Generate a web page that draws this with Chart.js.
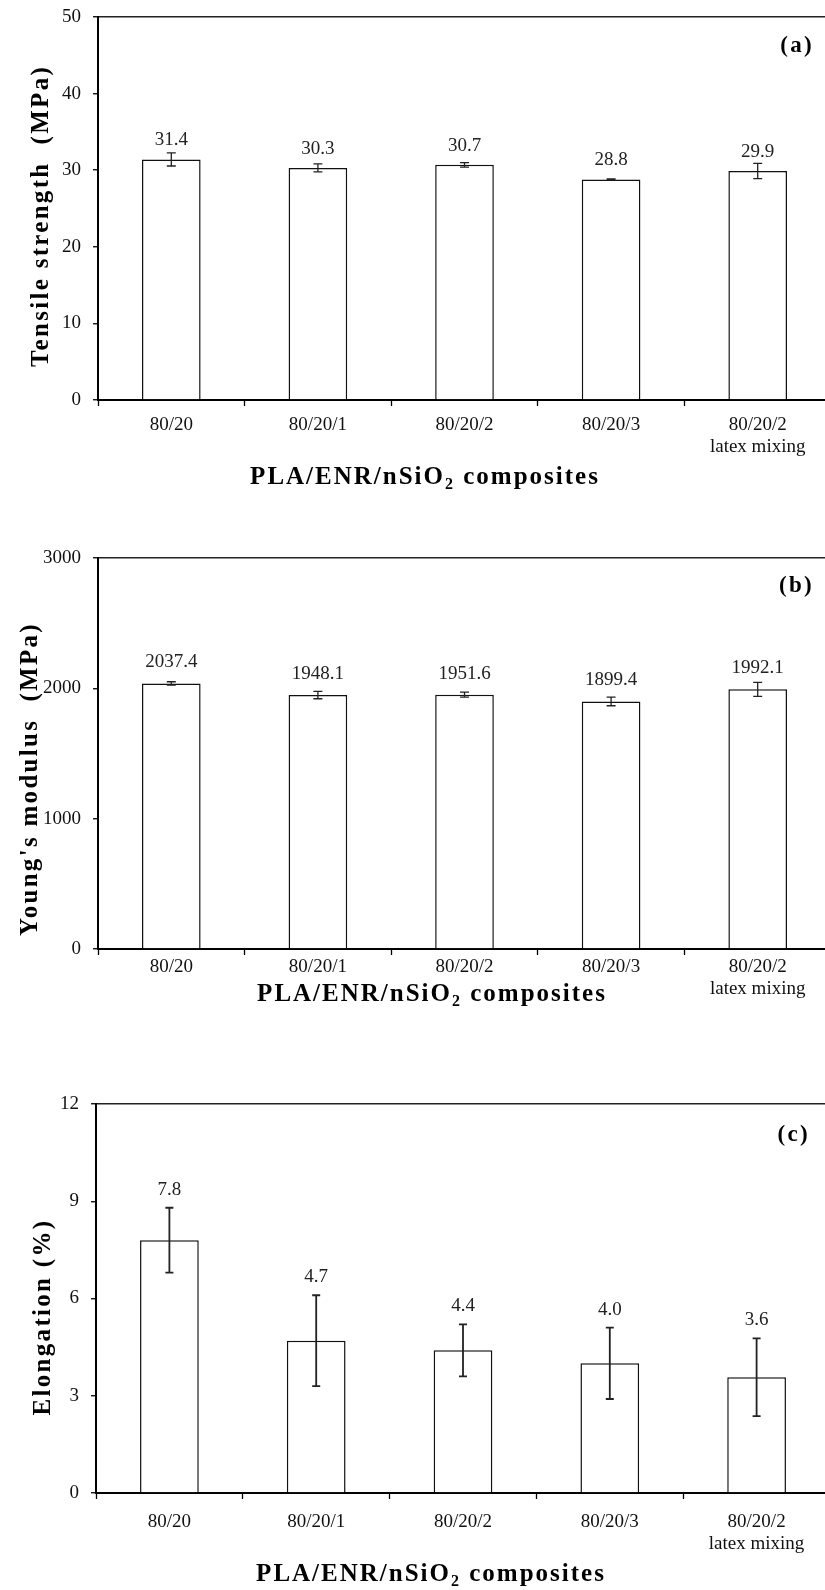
<!DOCTYPE html>
<html>
<head>
<title>PLA/ENR/nSiO2 composites</title>
<script src="https://cdn.jsdelivr.net/npm/chart.js@4.4.1/dist/chart.umd.min.js"></script>
<style>
  html, body { margin: 0; padding: 0; background: #fff; overflow: hidden; width: 825px; height: 1590px; }
  canvas { position: absolute; left: 0; }
</style>
</head>
<body>
<canvas id="cA" width="845" height="530" style="top:0px"></canvas>
<canvas id="cB" width="845" height="480" style="top:540px"></canvas>
<canvas id="cC" width="845" height="505" style="top:1085px"></canvas>

<script>
// data
const categories = ['80/20', '80/20/1', '80/20/2', '80/20/3', ['80/20/2', 'latex mixing']];

const tensile      = [31.4, 30.3, 30.7, 28.8, 29.9];
const tensileErr   = [0.85, 0.52, 0.29, 0.08, 1.0];
const tensileTicks = [0, 10, 20, 30, 40, 50];

const modulus      = [2037.4, 1948.1, 1951.6, 1899.4, 1992.1];
const modulusErr   = [13, 28, 19, 33, 54];
const modulusTicks = [0, 1000, 2000, 3000];

const elongation      = [7.8, 4.7, 4.4, 4.0, 3.57];
const elongationErr   = [1.0, 1.4, 0.8, 1.1, 1.2];
const elongationTicks = [0, 3, 6, 9, 12];

const SERIF = "'Liberation Serif', 'Times New Roman', serif";

// error bars, value labels, panel letter and axis titles
function decor(p) {
  return {
    id: 'decor',
    afterDatasetsDraw(chart) {
      const ctx = chart.ctx, y = chart.scales.y, area = chart.chartArea;
      const meta = chart.getDatasetMeta(0);
      ctx.save();

      ctx.strokeStyle = '#222';
      ctx.lineWidth = p.errWidth;
      p.values.forEach((v, i) => {
        const cx = meta.data[i].x;
        const t = y.getPixelForValue(v + p.errors[i]);
        const b = y.getPixelForValue(v - p.errors[i]);
        ctx.beginPath();
        ctx.moveTo(cx, t); ctx.lineTo(cx, b);
        ctx.moveTo(cx - p.cap, t); ctx.lineTo(cx + p.cap, t);
        ctx.moveTo(cx - p.cap, b); ctx.lineTo(cx + p.cap, b);
        ctx.stroke();
      });

      ctx.fillStyle = '#222';
      ctx.font = '19px ' + SERIF;
      ctx.textAlign = 'center';
      ctx.textBaseline = 'middle';
      p.values.forEach((v, i) => {
        const ref = p.labelFromErr ? v + p.errors[i] : v;
        ctx.fillText(v.toFixed(1), meta.data[i].x, y.getPixelForValue(ref) - p.labelGap);
      });

      ctx.fillStyle = '#000';
      ctx.letterSpacing = '2.3px';
      ctx.font = 'bold 23px ' + SERIF;
      ctx.textAlign = 'right';
      ctx.fillText(p.panel, p.panelX, area.top + p.panelDy);

      // x title with subscript
      ctx.letterSpacing = '2px';
      ctx.textAlign = 'left';
      ctx.textBaseline = 'alphabetic';
      const parts = [['PLA/ENR/nSiO', 25, 0], ['2', 16, 5], [' composites', 25, 0]];
      let total = 0;
      parts.forEach(q => { ctx.font = 'bold ' + q[1] + 'px ' + SERIF; total += ctx.measureText(q[0]).width; });
      let xx = p.xTitleX - total / 2;
      parts.forEach(q => {
        ctx.font = 'bold ' + q[1] + 'px ' + SERIF;
        ctx.fillText(q[0], xx, p.xTitleY + q[2]);
        xx += ctx.measureText(q[0]).width;
      });

      // y title
      ctx.letterSpacing = '2.3px';
      ctx.font = 'bold 25px ' + SERIF;
      ctx.textAlign = 'center';
      ctx.translate(p.yTitleX, p.yTitleY);
      ctx.rotate(-Math.PI / 2);
      ctx.fillText(p.yTitle, 0, 0);

      ctx.restore();
    }
  };
}

function makeChart(id, values, errors, ticks, lay, p) {
  const top = ticks[ticks.length - 1];
  p.values = values;
  p.errors = errors;
  return new Chart(document.getElementById(id), {
    type: 'bar',
    data: {
      labels: categories,
      datasets: [{
        data: values,
        backgroundColor: '#fff',
        borderColor: '#111',
        borderWidth: 1.5,
        barPercentage: 0.4,
        categoryPercentage: 1.0
      }]
    },
    options: {
      responsive: false,
      animation: false,
      events: [],
      layout: { padding: { top: lay.padTop, right: lay.padRight, left: 0, bottom: 0 } },
      plugins: { legend: { display: false }, tooltip: { enabled: false } },
      scales: {
        x: {
          afterFit: s => { s.height = lay.xHeight; },
          grid: { offset: true, drawOnChartArea: false, drawTicks: true, tickLength: 6, tickColor: '#000', tickWidth: 1.3 },
          border: { display: true, color: '#000', width: 2 },
          ticks: { color: '#111', padding: lay.xPad, maxRotation: 0, autoSkip: false,
                   font: { family: SERIF, size: 19, lineHeight: 1.15 } }
        },
        y: {
          min: 0, max: top,
          afterFit: s => { s.width = lay.yWidth; s.paddingTop = 0; s.paddingBottom = 0; },
          afterBuildTicks: s => { s.ticks = ticks.map(v => ({ value: v })); },
          grid: {
            color: c => (c.tick && c.tick.value === top) ? '#222' : 'rgba(0,0,0,0)',
            lineWidth: 1.5, tickLength: 5, tickColor: '#000', tickWidth: 1.3
          },
          border: { display: true, color: '#000', width: 2 },
          ticks: { color: '#111', padding: 12, callback: v => String(v),
                   font: { family: SERIF, size: 19 } }
        }
      }
    },
    plugins: [decor(p)]
  });
}

makeChart('cA', tensile, tensileErr, tensileTicks,
  { padTop: 17, padRight: 14, xHeight: 130, yWidth: 98, xPad: 8.5 },
  { panel: '(a)', panelX: 814, panelDy: 29, yTitle: 'Tensile strength  (MPa)', yTitleX: 48, yTitleY: 216,
    xTitleX: 425, xTitleY: 484, errWidth: 1.3, cap: 4.5, labelFromErr: false, labelGap: 19 });

makeChart('cB', modulus, modulusErr, modulusTicks,
  { padTop: 18, padRight: 14, xHeight: 71, yWidth: 98, xPad: 1.5 },
  { panel: '(b)', panelX: 814, panelDy: 28, yTitle: "Young's modulus  (MPa)", yTitleX: 36.5, yTitleY: 239,
    xTitleX: 432, xTitleY: 461, errWidth: 1.3, cap: 4.5, labelFromErr: false, labelGap: 21 });

makeChart('cC', elongation, elongationErr, elongationTicks,
  { padTop: 19, padRight: 15, xHeight: 97, yWidth: 96, xPad: 12 },
  { panel: '(c)', panelX: 810, panelDy: 31, yTitle: 'Elongation (%)', yTitleX: 50, yTitleY: 232,
    xTitleX: 431, xTitleY: 496, errWidth: 1.8, cap: 4, labelFromErr: true, labelGap: 18 });
</script>
</body>
</html>
